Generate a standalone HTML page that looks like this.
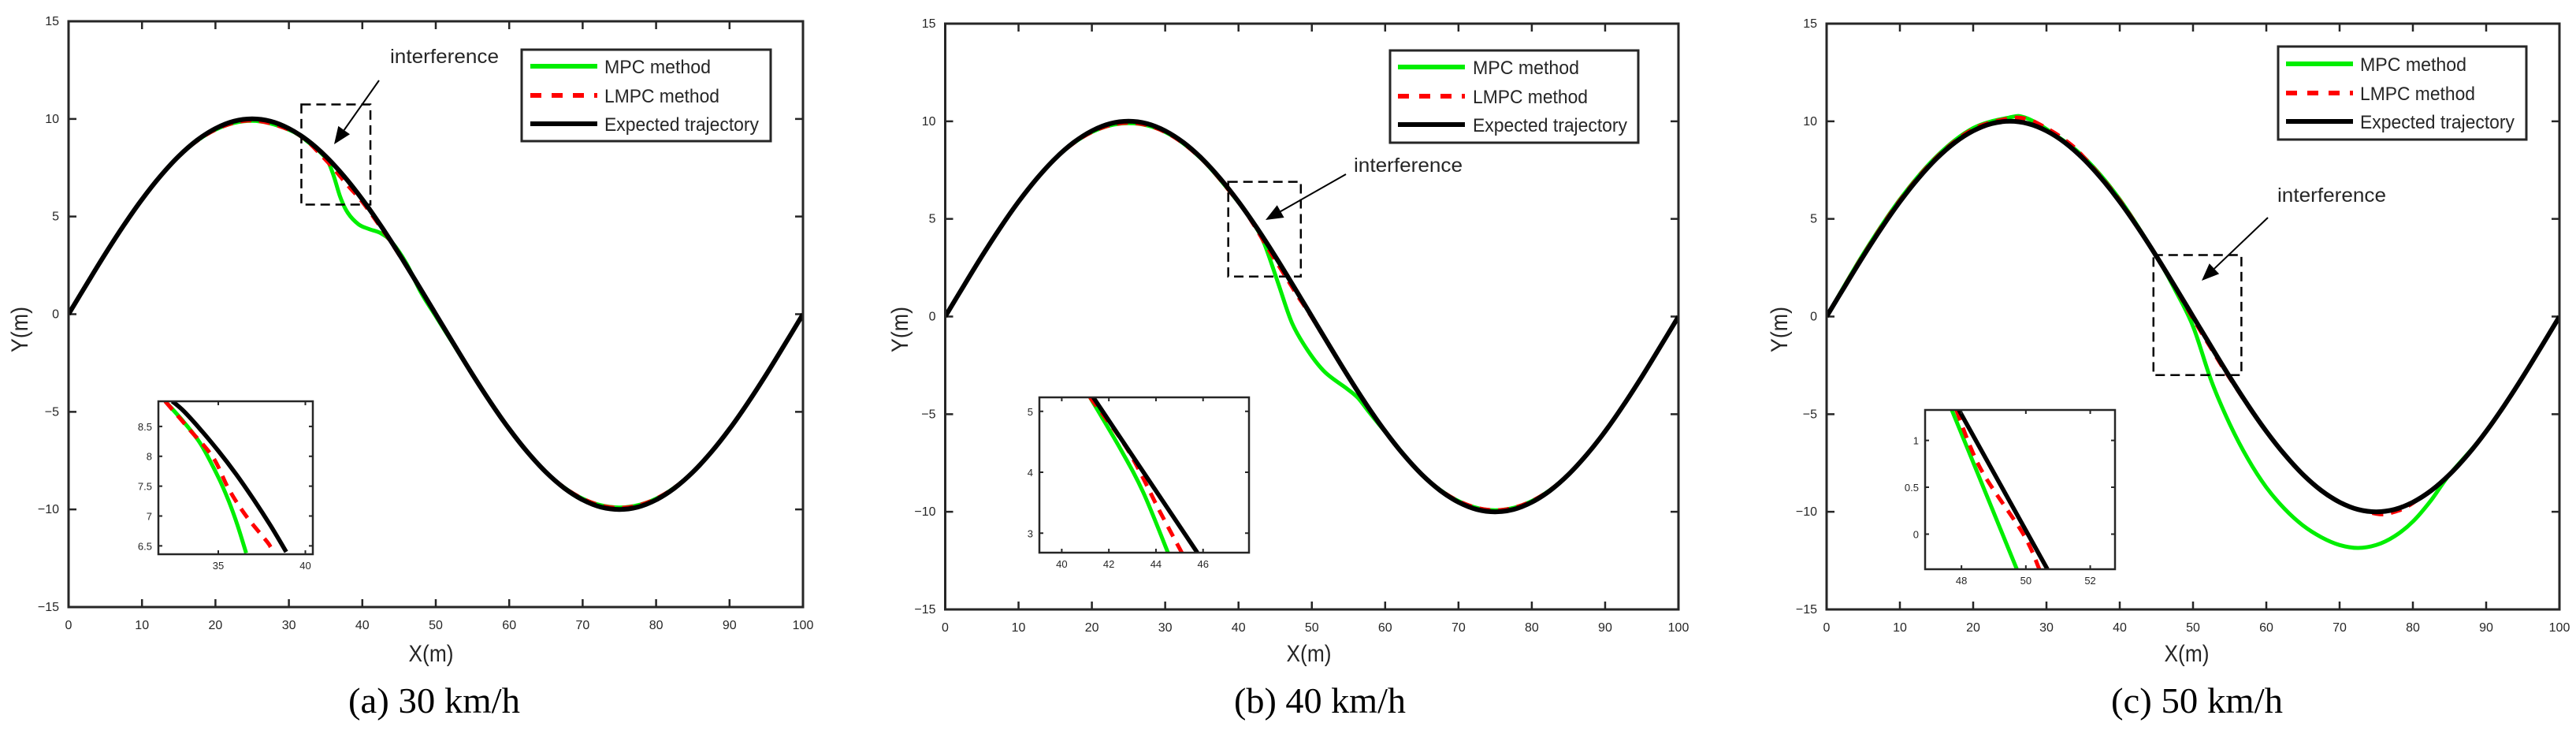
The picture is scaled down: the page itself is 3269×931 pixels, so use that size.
<!DOCTYPE html>
<html><head><meta charset="utf-8"><title>Trajectory tracking comparison</title>
<style>
html,body{margin:0;padding:0;background:#fff;}
svg{display:block;}
text{font-family:"Liberation Sans",sans-serif;fill:#262626;}
.cap{font-family:"Liberation Serif",serif;fill:#000;}
</style></head>
<body>
<svg id="fig" xmlns="http://www.w3.org/2000/svg" width="3269" height="931" viewBox="0 0 3269 931"></svg>
<script>
// ---------- data ----------
const expX = [0,2.5,5,7.5,10,12.5,15,17.5,20,22.5,25,27.5,30,32.5,35,37.5,40,42.5,45,47.5,50,52.5,55,57.5,60,62.5,65,67.5,70,72.5,75,77.5,80,82.5,85,87.5,90,92.5,95,97.5,100];
const expY = [0,1.56,3.09,4.54,5.88,7.07,8.09,8.91,9.51,9.88,10,9.88,9.51,8.91,8.09,7.07,5.88,4.54,3.09,1.56,0,-1.56,-3.09,-4.54,-5.88,-7.07,-8.09,-8.91,-9.51,-9.88,-10,-9.88,-9.51,-8.91,-8.09,-7.07,-5.88,-4.54,-3.09,-1.56,0];

const mpcX1 = [0,5,10,15,20,25,30,33,35,36,37,38,39.5,41,42.5,44,46,48,50,52,55,60,65,70,75,80,85,90,95,100];
const mpcY1 = [0,3.09,5.88,8.09,9.45,9.9,9.45,8.7,8.0,7.2,6.0,5.2,4.6,4.35,4.15,3.7,2.6,1.1,-0.1,-1.3,-3.09,-5.88,-8.09,-9.45,-9.9,-9.45,-8.09,-5.88,-3.09,0];
const lmpcX1 = [0,5,10,15,20,25,30,32.5,34,36,38,40,42.5,45,50,55,60,65,70,75,80,85,90,95,100];
const lmpcY1 = [0,3.09,5.88,8.09,9.45,9.92,9.45,8.85,8.3,7.5,6.6,5.75,4.45,3.05,0,-3.09,-5.88,-8.09,-9.45,-9.92,-9.45,-8.09,-5.88,-3.09,0];

const mpcX2 = [0,5,10,15,20,25,30,35,40,42,43.5,45.4,47.3,49.5,51.8,54.8,56.3,57.8,60,65,70,75,80,85,90,95,100];
const mpcY2 = [0,3.09,5.88,8.09,9.45,9.9,9.45,8.05,5.85,4.8,3.75,1.72,-0.33,-1.77,-2.85,-3.7,-4.17,-4.89,-5.9,-8.09,-9.45,-9.92,-9.45,-8.09,-5.88,-3.09,0];
const lmpcX2 = [0,5,10,15,20,25,30,35,40,42,44,46,48,50,55,60,65,70,75,80,85,90,95,100];
const lmpcY2 = [0,3.09,5.88,8.09,9.45,9.92,9.45,8.05,5.85,4.75,3.5,2.3,1.1,-0.05,-3.09,-5.88,-8.09,-9.45,-9.92,-9.45,-8.09,-5.88,-3.09,0];

const mpcX3 = [0,5,10,15,20,25,27,30,35,40,45,47.5,50,52.5,55,57.5,60,62.5,65,67.5,70,72.5,75,77.5,80,82.5,85,90,95,100];
const mpcY3 = [0,3.2,6.0,8.2,9.65,10.2,10.2,9.6,8.2,6.0,3.09,1.4,-0.5,-3.3,-5.5,-7.3,-8.75,-9.85,-10.7,-11.3,-11.7,-11.85,-11.7,-11.25,-10.5,-9.4,-8.09,-5.9,-3.1,0];
const lmpcX3 = [0,5,10,15,20,25,27.5,30,32.5,35,40,45,50,52.5,55,60,65,70,75,77.5,80,85,90,95,100];
const lmpcY3 = [0,3.15,5.95,8.15,9.6,10.15,10.1,9.65,9.05,8.2,5.95,3.1,-0.1,-1.65,-3.15,-5.9,-8.1,-9.5,-10.1,-10.0,-9.55,-8.1,-5.9,-3.1,0];

// inset data
const insExpX1 = [32.36,33,34,35,36,37,38,38.9];
const insExpY1 = [8.92,8.76,8.44,8.09,7.71,7.29,6.84,6.4];
const insMpcX1 = [31.95,33,34,35,35.6,36.1,36.6];
const insMpcY1 = [8.92,8.58,8.2,7.65,7.25,6.85,6.38];
const insLmpcX1 = [31.95,33.34,34.7,35.6,36.6,37.8,38.0];
const insLmpcY1 = [8.92,8.45,7.98,7.45,7.0,6.57,6.48];

const insExpX2 = [41.34,45.76];
const insExpY2 = [5.23,2.68];
const insMpcX2 = [41.2,42.51,43.46,44.51];
const insMpcY2 = [5.23,4.37,3.67,2.68];
const insLmpcX2 = [41.2,42.8,44.16,45.1];
const insLmpcY2 = [5.23,4.37,3.36,2.68];

const insExpX3 = [47.92,50.67];
const insExpY3 = [1.325,-0.375];
const insMpcX3 = [47.7,49.72];
const insMpcY3 = [1.325,-0.375];
const insLmpcX3 = [47.84,48.59,49.92,50.42];
const insLmpcY3 = [1.325,0.70,0,-0.375];

const xTicks = [0,10,20,30,40,50,60,70,80,90,100];
const yTicks = [15,10,5,0,-5,-10,-15];
const yTickLabels = ["15","10","5","0","\u22125","\u221210","\u221215"];
const captions = ["(a) 30 km/h","(b) 40 km/h","(c) 50 km/h"];
const legendLabels = ["MPC method","LMPC method","Expected trajectory"];

// ---------- layout ----------
const panels = [
 {l:87,t:27,r:1019,b:770, mpc:[mpcX1,mpcY1], lmpc:[lmpcX1,lmpcY1],
  box:[31.7,41.1,10.74,5.61], arrow:[481,102,424,183], itx:495, ity:80,
  leg:{x:662,y:63,w:316,h:116,lx0:673,lx1:758,tx:767,rows:[84,121,157]},
  ylab:35, xlab:547, cap:551,
  ins:{l:201,t:509,r:397,b:703,x0:31.56,x1:40.43,y0:6.36,y1:8.92,xt:[35,40],yt:[6.5,7,7.5,8,8.5],yl:["6.5","7","7.5","8","8.5"],
       e:[insExpX1,insExpY1],m:[insMpcX1,insMpcY1],d:[insLmpcX1,insLmpcY1]}},
 {l:1199.5,t:30,r:2130,b:773, mpc:[mpcX2,mpcY2], lmpc:[lmpcX2,lmpcY2],
  box:[38.6,48.5,6.9,2.05], arrow:[1708,221,1606,279], itx:1718, ity:218,
  leg:{x:1764,y:64,w:315,h:117,lx0:1774,lx1:1859,tx:1869,rows:[85,122,158]},
  ylab:1152, xlab:1661, cap:1675,
  ins:{l:1319,t:504,r:1585,b:701,x0:39.05,x1:47.95,y0:2.68,y1:5.23,xt:[40,42,44,46],yt:[3,4,5],yl:["3","4","5"],
       e:[insExpX2,insExpY2],m:[insMpcX2,insMpcY2],d:[insLmpcX2,insLmpcY2]}},
 {l:2318,t:30,r:3248,b:773, mpc:[mpcX3,mpcY3], lmpc:[lmpcX3,lmpcY3],
  box:[44.6,56.6,3.15,-3.0], arrow:[2878,276,2794,356], itx:2890, ity:256,
  leg:{x:2891,y:59,w:315,h:118,lx0:2901,lx1:2986,tx:2995,rows:[81,118,154]},
  ylab:2268, xlab:2775, cap:2788,
  ins:{l:2443,t:520,r:2684,b:722,x0:46.87,x1:52.77,y0:-0.375,y1:1.325,xt:[48,50,52],yt:[0,0.5,1],yl:["0","0.5","1"],
       e:[insExpX3,insExpY3],m:[insMpcX3,insMpcY3],d:[insLmpcX3,insLmpcY3]}}
];

const NS = "http://www.w3.org/2000/svg";
const svg = document.getElementById('fig');
function el(tag, attrs, parent){ const e=document.createElementNS(NS,tag); for(const k in attrs) e.setAttribute(k,attrs[k]); (parent||svg).appendChild(e); return e; }
function smooth(pts){
  if(pts.length<3) return "M"+pts.map(p=>p[0].toFixed(1)+","+p[1].toFixed(1)).join(" L");
  let d="M"+pts[0][0].toFixed(1)+","+pts[0][1].toFixed(1);
  for(let i=0;i<pts.length-1;i++){
    const p0=pts[Math.max(0,i-1)],p1=pts[i],p2=pts[i+1],p3=pts[Math.min(pts.length-1,i+2)];
    const c1=[p1[0]+(p2[0]-p0[0])/6,p1[1]+(p2[1]-p0[1])/6];
    const c2=[p2[0]-(p3[0]-p1[0])/6,p2[1]-(p3[1]-p1[1])/6];
    d+=" C"+c1[0].toFixed(1)+","+c1[1].toFixed(1)+" "+c2[0].toFixed(1)+","+c2[1].toFixed(1)+" "+p2[0].toFixed(1)+","+p2[1].toFixed(1);
  }
  return d;
}
const AX="#262626";

panels.forEach((P,pi)=>{
  const g=el('g',{});
  
  
  const sx=v=>P.l+(v-0)/100*(P.r-P.l);
  const sy=v=>P.t+(15-v)/30*(P.b-P.t);
  const clipId='clip'+pi;
  const cp=el('clipPath',{id:clipId},g); el('rect',{x:P.l,y:P.t,width:P.r-P.l,height:P.b-P.t},cp);

  xTicks.forEach(v=>{
    const x=sx(v);
    const tk=el('path',{d:`M${x},${P.b}v-10M${x},${P.t}v10`,stroke:AX,'stroke-width':2.5,fill:'none'},g);
    
    
    const t=el('text',{x:x,y:P.b+28,'font-size':16,'text-anchor':'middle'},g); t.textContent=v;
    
    
  });
  yTicks.forEach((v,i)=>{
    const y=sy(v);
    const tk=el('path',{d:`M${P.l},${y}h10M${P.r},${y}h-10`,stroke:AX,'stroke-width':2.5,fill:'none'},g);
    
    
    const t=el('text',{x:P.l-12,y:y+5,'font-size':16,'text-anchor':'end'},g); t.textContent=yTickLabels[i];
    
    
  });

  const lg=el('g',{'clip-path':`url(#${clipId})`},g);
  const toPts=(xs,ys)=>xs.map((x,i)=>[sx(x),sy(ys[i])]);
  const gm=el('path',{d:smooth(toPts(P.mpc[0],P.mpc[1])),stroke:'#00ee00','stroke-width':5,fill:'none','stroke-linejoin':'round'},lg);
  
  
  const rd=el('path',{d:smooth(toPts(P.lmpc[0],P.lmpc[1])),stroke:'#ff0000','stroke-width':5,fill:'none','stroke-dasharray':'14 10'},lg);
  
  
  const bk=el('path',{d:smooth(toPts(expX,expY)),stroke:'#000','stroke-width':6,fill:'none'},lg);
  
  

  const fr=el('rect',{x:P.l,y:P.t,width:P.r-P.l,height:P.b-P.t,fill:'none',stroke:AX,'stroke-width':3},g);
  
  

  const bx=el('rect',{x:sx(P.box[0]),y:sy(P.box[2]),width:sx(P.box[1])-sx(P.box[0]),height:sy(P.box[3])-sy(P.box[2]),fill:'none',stroke:'#000','stroke-width':2.5,'stroke-dasharray':'12 7'},g);
  
  
  const [ax1,ay1,ax2,ay2]=P.arrow;
  const ang=Math.atan2(ay2-ay1,ax2-ax1), hl=22, hw=9;
  const bxp=ax2-hl*Math.cos(ang), byp=ay2-hl*Math.sin(ang);
  const ar=el('g',{},g);
  
  
  el('line',{x1:ax1,y1:ay1,x2:bxp,y2:byp,stroke:'#000','stroke-width':2},ar);
  el('polygon',{points:`${ax2},${ay2} ${bxp+hw*Math.sin(ang)},${byp-hw*Math.cos(ang)} ${bxp-hw*Math.sin(ang)},${byp+hw*Math.cos(ang)}`,fill:'#000'},ar);
  const it=el('text',{x:P.itx,y:P.ity,'font-size':25,fill:'#000',textLength:138,lengthAdjust:'spacingAndGlyphs'},g); it.textContent='interference';
  
  

  const L=P.leg;
  const leg=el('g',{},g);
  
  
  el('rect',{x:L.x,y:L.y,width:L.w,height:L.h,fill:'#fff',stroke:AX,'stroke-width':3},leg);
  const styles=[{stroke:'#00ee00','stroke-width':6},{stroke:'#ff0000','stroke-width':6,'stroke-dasharray':'14 13'},{stroke:'#000','stroke-width':6}];
  const tl=[135,146,196];
  legendLabels.forEach((lab,i)=>{
    const e=el('g',{},leg);
    
    
    el('line',Object.assign({x1:L.lx0,x2:L.lx1,y1:L.rows[i],y2:L.rows[i]},styles[i]),e);
    const t=el('text',{x:L.tx,y:L.rows[i]+9,'font-size':24,fill:'#000',textLength:tl[i],lengthAdjust:'spacingAndGlyphs'},e); t.textContent=lab;
  });

  const yl=el('text',{x:P.ylab,y:418,'font-size':30,'text-anchor':'middle',transform:`rotate(-90 ${P.ylab} 418)`,textLength:58,lengthAdjust:'spacingAndGlyphs'},g);
  yl.textContent='Y(m)';
  
  
  const xl=el('text',{x:P.xlab,y:839,'font-size':30,'text-anchor':'middle',textLength:57,lengthAdjust:'spacingAndGlyphs'},g);
  xl.textContent='X(m)';
  
  
  const cap=el('text',{x:P.cap,y:904,'font-size':46,'text-anchor':'middle','class':'cap',textLength:218,lengthAdjust:'spacingAndGlyphs'},g);
  cap.textContent=captions[pi];
  
  

  const I=P.ins;
  const ig=el('g',{},g);
  
  
  const ix=v=>I.l+(v-I.x0)/(I.x1-I.x0)*(I.r-I.l);
  const iy=v=>I.b-(v-I.y0)/(I.y1-I.y0)*(I.b-I.t);
  el('rect',{x:I.l,y:I.t,width:I.r-I.l,height:I.b-I.t,fill:'#fff'},ig);
  const icp=el('clipPath',{id:'iclip'+pi},ig); el('rect',{x:I.l,y:I.t,width:I.r-I.l,height:I.b-I.t},icp);
  const il=el('g',{'clip-path':`url(#iclip${pi})`},ig);
  const ipts=(xs,ys)=>xs.map((x,i)=>[ix(x),iy(ys[i])]);
  const im=el('path',{d:smooth(ipts(I.m[0],I.m[1])),stroke:'#00ee00','stroke-width':5,fill:'none'},il);
  
  
  const idl=el('path',{d:smooth(ipts(I.d[0],I.d[1])),stroke:'#ff0000','stroke-width':5,fill:'none','stroke-dasharray':'14 10'},il);
  
  
  const ie=el('path',{d:smooth(ipts(I.e[0],I.e[1])),stroke:'#000','stroke-width':5.5,fill:'none'},il);
  
  
  el('rect',{x:I.l,y:I.t,width:I.r-I.l,height:I.b-I.t,fill:'none',stroke:AX,'stroke-width':2.5},ig);
  I.xt.forEach(v=>{
    const x=ix(v);
    el('path',{d:`M${x},${I.b}v-5M${x},${I.t}v5`,stroke:AX,'stroke-width':2},ig);
    const t=el('text',{x:x,y:I.b+19,'font-size':13,'text-anchor':'middle'},ig); t.textContent=v;
  });
  I.yt.forEach((v,i)=>{
    const y=iy(v);
    el('path',{d:`M${I.l},${y}h5M${I.r},${y}h-5`,stroke:AX,'stroke-width':2},ig);
    const t=el('text',{x:I.l-8,y:y+5,'font-size':13,'text-anchor':'end'},ig); t.textContent=I.yl[i];
  });
});
</script>
</body></html>
